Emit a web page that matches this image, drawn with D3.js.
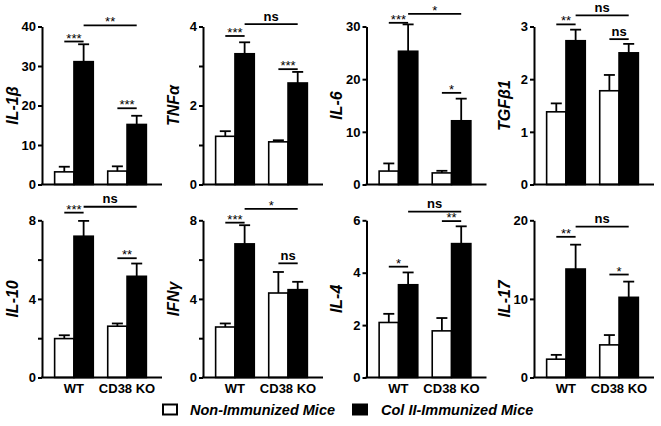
<!DOCTYPE html>
<html><head><meta charset="utf-8">
<script src="https://cdn.jsdelivr.net/npm/d3@7"></script>
<style>
body{margin:0;background:#fff}
svg{display:block}
text{font-family:"Liberation Sans",Arial,Helvetica,sans-serif;font-weight:bold;fill:#000}
</style>
</head><body>
<svg id="chart" width="661" height="426"></svg>
<script>
// ---- data ----
const categories = ["WT", "CD38 KO"];
const seriesNames = ["Non-Immunized Mice", "Col II-Immunized Mice"];
const panelNames = ["IL-1β", "TNFα", "IL-6", "TGFβ1", "IL-10", "IFNγ", "IL-4", "IL-17"];
const yMax = [40, 4, 30, 3, 8, 8, 6, 20];
const yTickStep = [10, 1, 10, 1, 2, 2, 2, 10];
const yLabelStep = [10, 2, 10, 1, 4, 4, 2, 10];
// means [WT, CD38 KO]
const nonImmMean = [[3.2, 3.4], [1.22, 1.08], [2.55, 2.2], [1.38, 1.78], [1.98, 2.61], [2.57, 4.3], [2.1, 1.78], [2.33, 4.15]];
const nonImmErr  = [[1.3, 1.2], [0.13, 0.04], [1.45, 0.4], [0.16, 0.30], [0.17, 0.14], [0.18, 1.07], [0.33, 0.49], [0.55, 1.25]];
const colMean    = [[31.1, 15.2], [3.31, 2.57], [25.3, 12.1], [2.73, 2.5], [7.19, 5.15], [6.8, 4.47], [3.54, 5.11], [13.8, 10.2]];
const colErr     = [[4.4, 2.2], [0.29, 0.28], [5.1, 4.2], [0.21, 0.17], [0.78, 0.65], [0.95, 0.4], [0.47, 0.66], [3.1, 2.0]];
// significance labels and bracket levels (data units)
const sigWT = ["***", "***", "***", "**", "***", "***", "*", "**"];
const sigKO = ["***", "***", "*", "ns", "**", "ns", "**", "*"];
const sigBetween = ["**", "ns", "*", "ns", "ns", "*", "ns", "ns"];
const sigWTLevel = [36.2, 3.76, 30.7, 3.04, 8.39, 7.88, 4.23, 17.9];
const sigKOLevel = [19.3, 2.92, 17.4, 2.76, 6.07, 5.81, 5.97, 13.1];
const sigBetweenLevel = [40.3, 4.06, 32.4, 3.21, 8.69, 8.58, 6.33, 19.2];

// ---- layout ----
const colX = [42, 203, 366.5, 534];
const rowTop = [26.5, 220.3];
const rowBottom = [184.5, 377.5];
const plotW = 120;
const fills = ["#fff", "#000"];

const svg = d3.select("#chart");

panelNames.forEach((name, p) => {
  const row = Math.floor(p / 4), col = p % 4;
  const h = rowBottom[row] - rowTop[row];
  const g = svg.append("g").attr("transform", `translate(${colX[col]},${rowTop[row]})`);

  const y = d3.scaleLinear().domain([0, yMax[p]]).range([h, 0]);
  const x0 = d3.scaleBand().domain(categories).range([0, 117]).paddingInner(0.272).paddingOuter(0.238);
  const x1 = d3.scaleBand().domain(seriesNames).range([0, x0.bandwidth()]);

  // bars
  const rows = [];
  categories.forEach((c, ci) => {
    rows.push({c, s: seriesNames[0], v: nonImmMean[p][ci], e: nonImmErr[p][ci], f: fills[0]});
    rows.push({c, s: seriesNames[1], v: colMean[p][ci], e: colErr[p][ci], f: fills[1]});
  });
  const bx = d => x0(d.c) + x1(d.s);
  g.selectAll("rect.bar").data(rows).join("rect")
    .attr("x", bx).attr("width", x1.bandwidth())
    .attr("y", d => y(d.v)).attr("height", d => h - y(d.v))
    .attr("fill", d => d.f).attr("stroke", "#000").attr("stroke-width", 1.6);
  // error bars (upper)
  const cx = d => bx(d) + x1.bandwidth() / 2;
  g.selectAll("line.err").data(rows).join("line")
    .attr("x1", cx).attr("x2", cx)
    .attr("y1", d => y(d.v)).attr("y2", d => y(d.v + d.e))
    .attr("stroke", "#000").attr("stroke-width", 1.8);
  g.selectAll("line.cap").data(rows).join("line")
    .attr("x1", d => cx(d) - 5.5).attr("x2", d => cx(d) + 5.5)
    .attr("y1", d => y(d.v + d.e)).attr("y2", d => y(d.v + d.e))
    .attr("stroke", "#000").attr("stroke-width", 1.8);

  // axes
  const ticks = d3.range(0, yMax[p] + 1e-9, yTickStep[p]);
  const yAxis = d3.axisLeft(y).tickValues(ticks).tickSize(4).tickSizeOuter(0).tickPadding(2)
    .tickFormat(v => (Math.abs(v / yLabelStep[p] - Math.round(v / yLabelStep[p])) < 1e-6) ? d3.format("d")(v) : "");
  const ya = g.append("g").call(yAxis);
  ya.select(".domain").attr("stroke-width", 2);
  ya.selectAll(".tick line").attr("stroke-width", 2);
  ya.selectAll(".tick text").style("font-size", "13px").style("font-family", '"Liberation Sans",Arial,sans-serif').style("font-weight", "bold");
  g.append("line").attr("x1", -1).attr("x2", plotW).attr("y1", h).attr("y2", h)
    .attr("stroke", "#000").attr("stroke-width", 2);

  // y label
  g.append("text").attr("transform", `translate(-30,${h / 2}) rotate(-90)`)
    .attr("text-anchor", "middle").attr("dominant-baseline", "central")
    .style("font-size", "16px").style("font-style", "italic").text(name);

  // x labels (bottom row)
  if (row === 1) {
    g.selectAll("text.xl").data(categories).join("text")
      .attr("x", c => x0(c) + x0.bandwidth() / 2).attr("y", h + 15.5)
      .attr("text-anchor", "middle").style("font-size", "13px").text(c => c);
  }

  // significance brackets
  const center = (c, s) => x0(c) + x1(s) + x1.bandwidth() / 2;
  const brackets = [
    {x1: center(categories[0], seriesNames[0]), x2: center(categories[0], seriesNames[1]), lv: sigWTLevel[p], t: sigWT[p]},
    {x1: center(categories[1], seriesNames[0]), x2: center(categories[1], seriesNames[1]), lv: sigKOLevel[p], t: sigKO[p]},
    {x1: center(categories[0], seriesNames[1]), x2: center(categories[1], seriesNames[1]), lv: sigBetweenLevel[p], t: sigBetween[p]}
  ];
  brackets.forEach(b => {
    const yy = y(b.lv);
    g.append("line").attr("x1", b.x1).attr("x2", b.x2).attr("y1", yy).attr("y2", yy)
      .attr("stroke", "#000").attr("stroke-width", 1.8);
    const isNs = b.t === "ns";
    g.append("text").attr("x", (b.x1 + b.x2) / 2).attr("y", isNs ? yy - 3.5 : yy + 1)
      .attr("text-anchor", "middle").style("font-size", "13px")
      .style("font-weight", isNs ? "bold" : "normal").text(b.t);
  });
});

// legend
const legend = svg.append("g");
const legX = [163, 353], legTextX = [190, 381];
seriesNames.forEach((s, i) => {
  legend.append("rect").attr("x", legX[i]).attr("y", 404.5).attr("width", 14).attr("height", 10)
    .attr("fill", fills[i]).attr("stroke", "#000").attr("stroke-width", 2);
  legend.append("text").attr("x", legTextX[i]).attr("y", 415)
    .style("font-size", "14.5px").style("font-style", "italic").text(s);
});
</script>
</body></html>
